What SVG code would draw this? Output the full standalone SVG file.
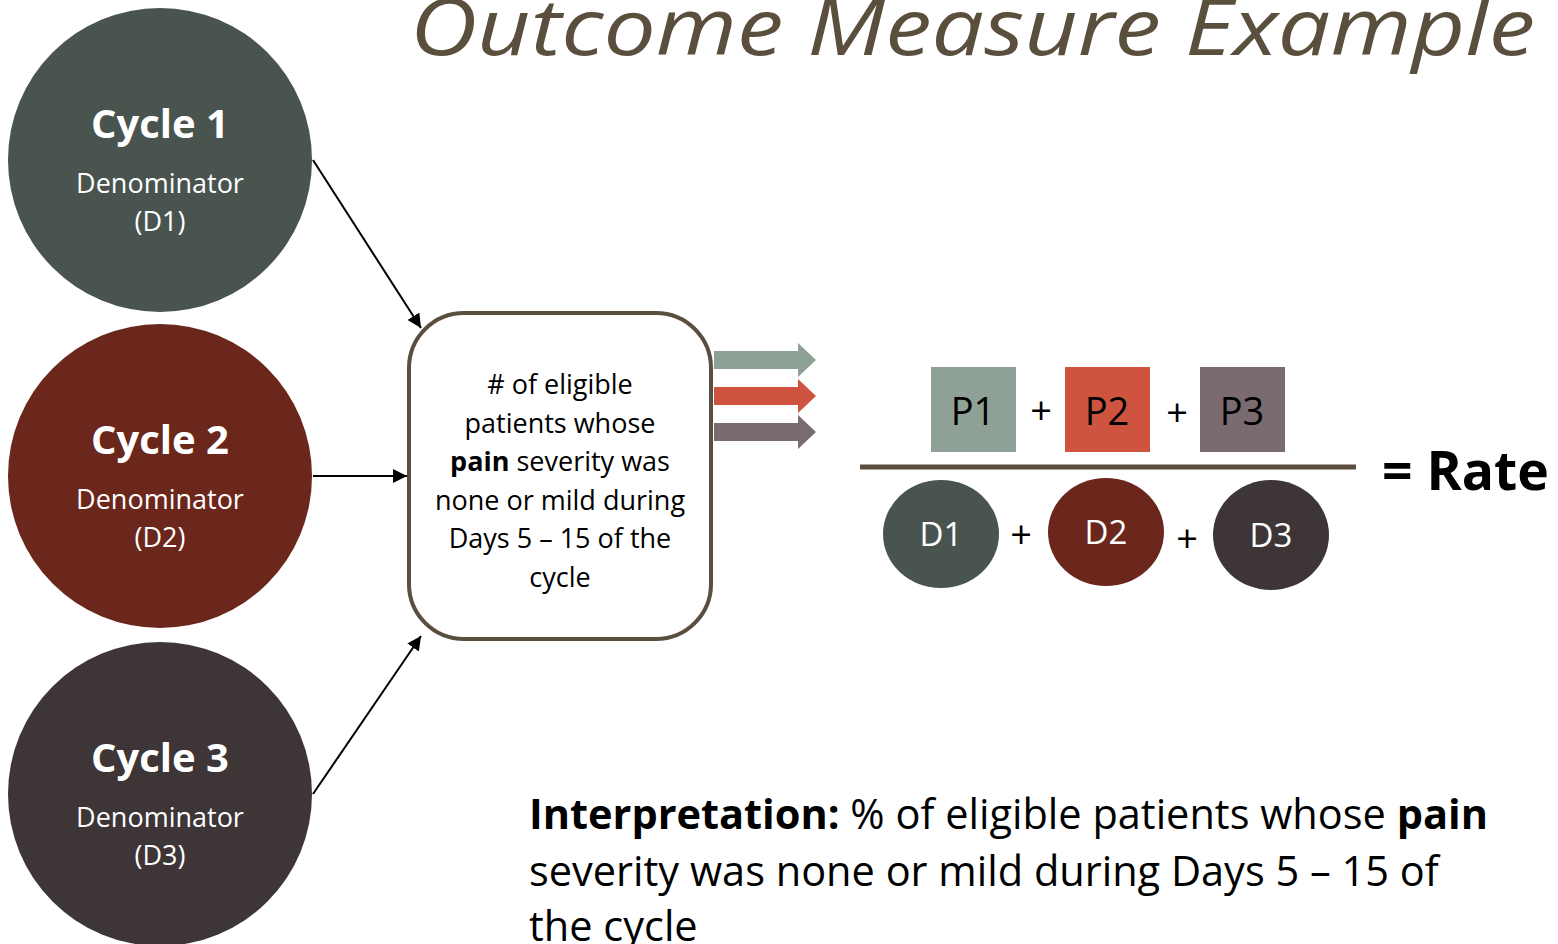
<svg xmlns="http://www.w3.org/2000/svg" width="1558" height="944" viewBox="0 0 1558 944">
<style>
text{font-family:"Open Sans","Liberation Sans",sans-serif}
.ct{fill:#fff;font-weight:bold;font-size:40px;text-anchor:middle}
.cs{fill:#fff;font-size:27px;text-anchor:middle}
.bx{fill:#000;font-size:27px;text-anchor:middle}
.pl{fill:#000;font-size:38px;text-anchor:middle}
.dl{fill:#fff;font-size:33px;text-anchor:middle}
.conn{stroke:#000;stroke-width:2;fill:none;marker-end:url(#ah)}
.it{fill:#000;font-size:41.5px}
</style>
<defs>
<marker id="ah" viewBox="0 0 10 10" refX="10" refY="5" markerWidth="7" markerHeight="7" orient="auto-start-reverse" markerUnits="strokeWidth">
<path d="M0,0 L10,5 L0,10 z" fill="#000"/>
</marker>
</defs>
<rect width="1558" height="944" fill="#fff"/>
<text id="title" x="410" y="55" font-size="78" font-style="italic" fill="#5a4e3c" textLength="1125" lengthAdjust="spacingAndGlyphs">Outcome Measure Example</text>

<g id="cycle1">
<circle cx="160" cy="160" r="152" fill="#4a544e"/>
<text class="ct" x="160" y="138">Cycle 1</text>
<text class="cs" x="160" y="193">Denominator</text>
<text class="cs" x="160" y="231">(D1)</text>
</g>
<g id="cycle2">
<circle cx="160" cy="476" r="152" fill="#6b271c"/>
<text class="ct" x="160" y="454">Cycle 2</text>
<text class="cs" x="160" y="509">Denominator</text>
<text class="cs" x="160" y="547">(D2)</text>
</g>
<g id="cycle3">
<circle cx="160" cy="794" r="152" fill="#3d3536"/>
<text class="ct" x="160" y="772">Cycle 3</text>
<text class="cs" x="160" y="827">Denominator</text>
<text class="cs" x="160" y="865">(D3)</text>
</g>

<g id="box">
<rect x="409" y="313" width="302" height="326" rx="55" fill="#fff" stroke="#5a4e40" stroke-width="4"/>
<text class="bx" x="560" y="394"># of eligible</text>
<text class="bx" x="560" y="433">patients whose</text>
<text class="bx" x="560" y="471"><tspan font-weight="bold">pain</tspan> severity was</text>
<text class="bx" x="560" y="510">none or mild during</text>
<text class="bx" x="560" y="548">Days 5 – 15 of the</text>
<text class="bx" x="560" y="587">cycle</text>
</g>

<g id="connectors">
<line class="conn" x1="313" y1="160" x2="421" y2="328"/>
<line class="conn" x1="313" y1="476" x2="407" y2="476"/>
<line class="conn" x1="313" y1="794" x2="421" y2="636"/>
<path d="M714,351 H798 V343 L816,360 L798,377 V369 H714 z" fill="#8fa196"/>
<path d="M714,387 H798 V379 L816,396 L798,413 V405 H714 z" fill="#cf5440"/>
<path d="M714,423 H798 V415 L816,432 L798,449 V441 H714 z" fill="#7a6b70"/>
</g>

<g id="fraction">
<rect id="p1" x="931" y="367" width="85" height="85" fill="#8fa196"/>
<text class="pl" x="973" y="425">P1</text>
<text class="pl" x="1041" y="424">+</text>
<rect id="p2" x="1065" y="367" width="85" height="85" fill="#cf5440"/>
<text class="pl" x="1107" y="425">P2</text>
<text class="pl" x="1177" y="426">+</text>
<rect id="p3" x="1200" y="367" width="85" height="85" fill="#7a6b70"/>
<text class="pl" x="1242" y="425">P3</text>
<line x1="860" y1="467" x2="1356" y2="467" stroke="#5a4e40" stroke-width="5"/>
<ellipse id="d1" cx="941" cy="534" rx="58" ry="54" fill="#4a544e"/>
<text class="dl" x="941" y="546">D1</text>
<text class="pl" x="1021" y="548">+</text>
<ellipse id="d2" cx="1106" cy="532" rx="58" ry="54" fill="#6b271c"/>
<text class="dl" x="1106" y="544">D2</text>
<text class="pl" x="1187" y="552">+</text>
<ellipse id="d3" cx="1271" cy="535" rx="58" ry="55" fill="#3d3536"/>
<text class="dl" x="1271" y="547">D3</text>
<text x="1382" y="490" font-size="53.5" font-weight="bold" fill="#000">= Rate</text>
</g>

<g id="interpretation">
<text class="it" x="529" y="829"><tspan font-weight="bold">Interpretation:</tspan> % of eligible patients whose <tspan font-weight="bold">pain</tspan></text>
<text class="it" x="529" y="886">severity was none or mild during Days 5 – 15 of</text>
<text class="it" x="529" y="941">the cycle</text>
</g>
</svg>
